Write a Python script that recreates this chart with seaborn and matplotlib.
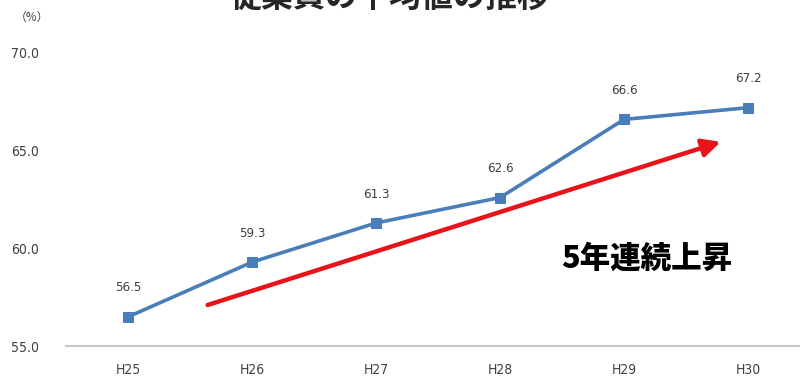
import matplotlib
matplotlib.use("Agg")
import matplotlib.pyplot as plt
import seaborn as sns
import pandas as pd

years = ["H25", "H26", "H27", "H28", "H29", "H30"]
values = [56.5, 59.3, 61.3, 62.6, 66.6, 67.2]
y_ticks = [55.0, 60.0, 65.0, 70.0]
title_text = "従業員の平均値の推移"
unit_text = "（%）"
note_text = "5年連続上昇"

sns.set_theme(style="white")
plt.rcParams['font.family'] = ['DejaVu Sans', 'Noto Sans CJK JP']
plt.rcParams['font.stretch'] = 'condensed'

df = pd.DataFrame({"year": years, "value": values})

fig = plt.figure(figsize=(8, 3.89), dpi=100)
ax = fig.add_axes([0.083, 0.1105, 0.917, 0.7533])

sns.lineplot(data=df, x="year", y="value", ax=ax, color="#4a7ebb", linewidth=2.6,
             marker="s", markersize=7, markeredgecolor="#4a7ebb", sort=False)

for i, v in enumerate(values):
    ax.annotate(f"{v:.1f}", (i, v), xytext=(0, 16), textcoords="offset points",
                ha="center", va="bottom", fontsize=9.5, color="#404040")

ax.annotate("", xy=(4.78, 65.45), xytext=(0.64, 57.1),
            arrowprops=dict(arrowstyle="-|>,head_length=0.9,head_width=0.45",
                            color="#e8141c", lw=3.2, shrinkA=0, shrinkB=0))

ax.text(4.18, 59.5, note_text, fontsize=22, fontweight="black", color="black",
        ha="center", va="center", family=['Noto Sans CJK JP', 'DejaVu Sans'],
        fontstretch="normal")

ax.set_xlim(-0.5, 5.42)
ax.set_ylim(55, 70)
ax.set_yticks(y_ticks)
ax.set_yticklabels([f"{t:.1f}" for t in y_ticks])
ax.set_xlabel("")
ax.set_ylabel("")
ax.tick_params(axis="y", length=0, pad=20, labelsize=10, labelcolor="#404040")
ax.tick_params(axis="x", length=0, pad=12, labelsize=10, labelcolor="#404040")
for s in ["top", "right", "left"]:
    ax.spines[s].set_visible(False)
ax.spines["bottom"].set_color("#c8c8c8")
ax.spines["bottom"].set_linewidth(1.5)

fig.text(0.018, 0.955, unit_text, fontsize=8.5, color="#404040", va="center",
         family=['Noto Sans CJK JP', 'DejaVu Sans'])
fig.text(0.487, 1.005, title_text, fontsize=23, fontweight="bold", ha="center",
         va="center", family=['Noto Sans CJK JP', 'DejaVu Sans'])

fig.savefig("out.png", dpi=100)
